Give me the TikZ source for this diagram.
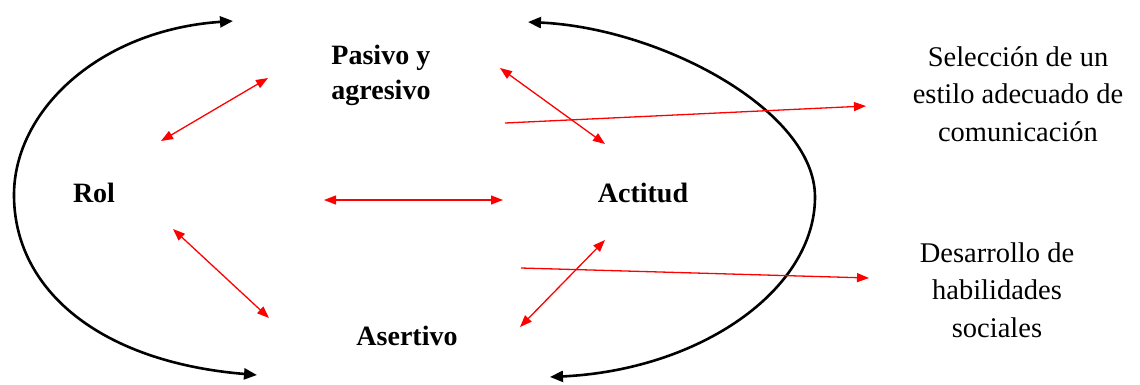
\documentclass[tikz,border=0pt]{standalone}
\usepackage{fontspec}
\setmainfont{Liberation Serif}
\usetikzlibrary{arrows.meta}
\tikzset{
  lbl/.style={font=\bfseries\fontsize{28}{35}\selectfont, inner sep=0pt},
  outlbl/.style={font=\fontsize{28.5}{37.5}\selectfont, align=center, inner sep=0pt},
  cyc/.style={line width=2.6pt, black, {Triangle[length=13pt,width=11pt]}-{Triangle[length=13pt,width=11pt]}},
  rel/.style={line width=1.3pt, red, {Triangle[length=12pt,width=9pt]}-{Triangle[length=12pt,width=9pt]}},
  res/.style={line width=1.3pt, red, -{Triangle[length=12pt,width=9pt]}}
}
\begin{document}
\begin{tikzpicture}[x=1pt,y=-1pt]
\useasboundingbox (0,0) rectangle (1140,384);
% labels
\node[lbl, align=left] (pas) at (381,75) {Pasivo y\\agresivo};
\node[lbl] (rol) at (94,193) {Rol};
\node[lbl] (act) at (643,193) {Actitud};
\node[lbl] (ase) at (407,336) {Asertivo};
\node[outlbl] (sel) at (1018,94) {Selección de un\\estilo adecuado de\\comunicación};
\node[outlbl] (des) at (997,290) {Desarrollo de\\habilidades\\sociales};
% coordinates
\coordinate (lt) at (233,21);
\coordinate (lb) at (257,375);
\coordinate (rt) at (528,22);
\coordinate (rb) at (550,377);
\coordinate (a1) at (161,141); \coordinate (a2) at (268,78);
\coordinate (b1) at (173,229); \coordinate (b2) at (269,318);
\coordinate (c1) at (324,200); \coordinate (c2) at (503,200);
\coordinate (d1) at (500,68);  \coordinate (d2) at (605,144);
\coordinate (e1) at (520,327); \coordinate (e2) at (605,240);
\coordinate (f1) at (505,123); \coordinate (f2) at (866,106);
\coordinate (g1) at (521,268); \coordinate (g2) at (869,278);
% cycle arcs
\draw[cyc] (lt) .. controls (100,30) and (14,110) .. (14,195)
                .. controls (14,290) and (100,362) .. (lb);
\draw[cyc] (rt) .. controls (660,28) and (815,110) .. (815,197)
                .. controls (815,290) and (700,370) .. (rb);
% relations
\draw[rel] (a1) -- (a2);
\draw[rel] (b1) -- (b2);
\draw[rel] (c1) -- (c2);
\draw[rel] (d1) -- (d2);
\draw[rel] (e1) -- (e2);
\draw[res] (f1) -- (f2);
\draw[res] (g1) -- (g2);
\end{tikzpicture}
\end{document}
